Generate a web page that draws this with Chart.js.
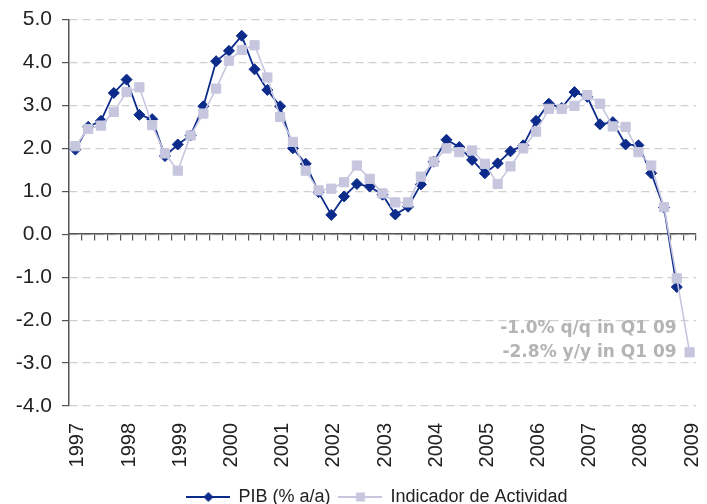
<!DOCTYPE html>
<html>
<head>
<meta charset="utf-8">
<script src="https://cdn.jsdelivr.net/npm/chart.js@4.4.1/dist/chart.umd.min.js"></script>
<style>
  html, body { margin: 0; padding: 0; background: #fff; }
  #wrap { width: 707px; height: 504px; }
</style>
</head>
<body>
<div id="wrap"><canvas id="data_viz"></canvas></div>
<script>
// quarterly data, 1997 Q1 .. 2009 Q1
var years = [1997, 1998, 1999, 2000, 2001, 2002, 2003, 2004, 2005, 2006, 2007, 2008, 2009];
var quarterNames = ['Q1', 'Q2', 'Q3', 'Q4'];

var pib = [1.97, 2.50, 2.64, 3.29, 3.60, 2.78, 2.68, 1.82, 2.09, 2.30, 2.98, 4.03, 4.27,
  4.62, 3.84, 3.36, 2.98, 2.00, 1.64, 0.98, 0.45, 0.88, 1.17, 1.11, 0.92, 0.46, 0.64,
  1.16, 1.69, 2.20, 2.03, 1.73, 1.42, 1.65, 1.93, 2.07, 2.64, 3.04, 2.94, 3.31, 3.20,
  2.56, 2.61, 2.09, 2.07, 1.42, 0.62, -1.23, null];

var indicador = [2.05, 2.45, 2.53, 2.85, 3.31, 3.42, 2.54, 1.88, 1.48, 2.30, 2.81, 3.39, 4.04,
  4.29, 4.40, 3.65, 2.73, 2.15, 1.48, 1.02, 1.06, 1.21, 1.60, 1.29, 0.95, 0.74, 0.74,
  1.34, 1.69, 2.00, 1.91, 1.95, 1.64, 1.17, 1.58, 2.00, 2.39, 2.92, 2.92, 2.99, 3.24,
  3.04, 2.51, 2.50, 1.91, 1.60, 0.63, -1.03, -2.75];

var seriesNames = ['PIB (% a/a)', 'Indicador de Actividad'];
var noteLines = ['-1.0% q/q in Q1 09', '-2.8% y/y in Q1 09'];

var PIB_COLOR = '#0d2b8a';
var IA_COLOR = '#c6c6df';
var FONT = 'Liberation Sans';
var NOTE_FONT = 'DejaVu Sans';

// category labels, one per quarter
var labels = [];
years.forEach(function(y) {
  quarterNames.forEach(function(q) {
    if (y < 2009 || q === 'Q1') labels.push(y + ' ' + q);
  });
});

// legend swatches: a short line with the marker in the middle
function swatch(color, shape) {
  var c = document.createElement('canvas');
  c.width = 44; c.height = 14;
  var g = c.getContext('2d');
  g.strokeStyle = color;
  g.lineWidth = 2;
  g.beginPath(); g.moveTo(0, 7); g.lineTo(44, 7); g.stroke();
  g.fillStyle = color;
  g.beginPath();
  if (shape === 'diamond') {
    g.moveTo(22, 2); g.lineTo(27, 7); g.lineTo(22, 12); g.lineTo(17, 7);
  } else {
    g.rect(17.5, 2.5, 9, 9);
  }
  g.closePath(); g.fill();
  return c;
}

var notePlugin = {
  id: 'notes',
  afterLayout: function(chart) {
    // nudge the legend a little to the left, like the original
    chart.legend.left -= 5;
    chart.legend.right -= 5;
  },
  afterDatasetsDraw: function(chart) {
    var xs = chart.scales.x, ys = chart.scales.y, ctx = chart.ctx;
    var last = indicador.length - 1;
    var x = xs.getPixelForValue(last) - 13;
    var y = ys.getPixelForValue(indicador[last]);
    ctx.save();
    ctx.font = 'bold 17px "' + NOTE_FONT + '"';
    ctx.fillStyle = '#b4b4b4';
    ctx.textAlign = 'right';
    ctx.textBaseline = 'middle';
    ctx.fillText(noteLines[0], x, y - 24);
    ctx.fillText(noteLines[1], x, y);
    ctx.restore();
  }
};

var ctx = document.getElementById('data_viz');
var chart = new Chart(ctx, {
  type: 'line',
  data: {
    labels: labels,
    datasets: [{
      label: seriesNames[0],
      data: pib,
      order: 1,
      borderColor: PIB_COLOR,
      backgroundColor: PIB_COLOR,
      borderWidth: 1.8,
      pointStyle: 'rectRot',
      pointRadius: 5.5,
      pointBorderWidth: 1,
      pointHoverRadius: 5.5,
      tension: 0,
      spanGaps: false
    }, {
      label: seriesNames[1],
      data: indicador,
      order: 0,
      borderColor: IA_COLOR,
      backgroundColor: IA_COLOR,
      borderWidth: 1.6,
      pointStyle: 'rect',
      pointRadius: 6.5,
      pointBorderWidth: 1,
      pointHoverRadius: 6.5,
      tension: 0
    }]
  },
  options: {
    responsive: true,
    maintainAspectRatio: false,
    animation: false,
    layout: { padding: { top: 19.5, right: 11, left: 0, bottom: -12 } },
    plugins: {
      tooltip: { enabled: false },
      legend: {
        position: 'bottom',
        fullSize: false,
        labels: {
          usePointStyle: true,
          pointStyleWidth: 42,
          padding: 9,
          color: '#222',
          font: { family: FONT, size: 18 },
          sort: function(a, b) { return a.datasetIndex - b.datasetIndex; },
          generateLabels: function(chart) {
            return chart.data.datasets.map(function(ds, i) {
              return {
                text: ds.label,
                datasetIndex: i,
                pointStyle: swatch(ds.borderColor, i === 0 ? 'diamond' : 'square'),
                fillStyle: ds.borderColor,
                strokeStyle: ds.borderColor,
                lineWidth: 0,
                fontColor: '#222'
              };
            });
          }
        }
      }
    },
    scales: {
      x: {
        type: 'category',
        offset: true,
        grid: { display: false },
        border: { display: false },
        ticks: {
          autoSkip: false,
          minRotation: 90,
          maxRotation: 90,
          padding: 9,
          labelOffset: 2.5,
          color: '#222',
          font: { family: FONT, size: 20 },
          callback: function(v, i) {
            var l = labels[i];
            return l.slice(5) === 'Q1' ? l.slice(0, 4) : '';
          }
        },
        afterFit: function(scale) {
          scale.height = 73;
          scale.paddingLeft = 0;
          scale.paddingRight = 0;
        }
      },
      x2: {
        type: 'category',
        position: { y: 0 },
        offset: true,
        grid: { offset: true, drawOnChartArea: false, tickLength: 6, color: '#555', lineWidth: 1.2 },
        border: { color: '#555', width: 1.5 },
        ticks: { display: false },
        afterFit: function(scale) {
          scale.paddingLeft = 0;
          scale.paddingRight = 0;
        }
      },
      y: {
        min: -4,
        max: 5,
        ticks: {
          stepSize: 1,
          padding: 10,
          color: '#222',
          font: { family: FONT, size: 21 },
          callback: function(v) { return v.toFixed(1); }
        },
        grid: { color: '#d0d0d0', tickColor: '#555', tickLength: 7, lineWidth: 1.2 },
        border: { color: '#555', width: 1.5, dash: [8, 5] },
        afterFit: function(scale) {
          scale.width = 69;
          scale.paddingTop = 0;
          scale.paddingBottom = 0;
        }
      }
    }
  },
  plugins: [notePlugin]
});
</script>
</body>
</html>
